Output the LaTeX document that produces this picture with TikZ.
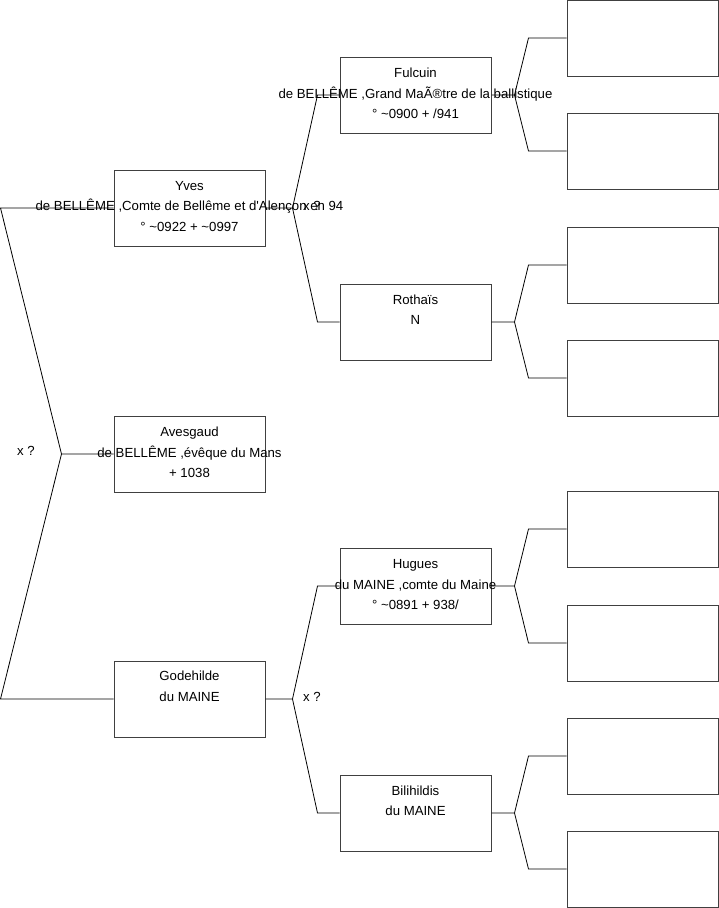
\documentclass[tikz,border=0pt]{standalone}
\usepackage{fontspec}
\setmainfont{Liberation Sans}[Ligatures=TeXOff]
\usetikzlibrary{positioning}
\definecolor{boxc}{HTML}{404040}
\tikzset{
  bx/.style={draw=boxc,line width=1pt,minimum width=151pt,minimum height=76pt,inner sep=0pt},
  tx/.style={align=center,inner sep=0pt,font=\fontsize{13.2}{20.5}\selectfont},
  ln/.style={black,line width=0.8pt}
}
\newcommand{\tld}{\textasciitilde}

\begin{document}
\begin{tikzpicture}[x=1pt,y=1pt]
\useasboundingbox (0,0) rectangle (719,-908);
% first generation
\node[bx] (yves) at (189.5,-208) {};
\node[bx] (aves) at (189.5,-454) {};
\node[bx] (gode) at (189.5,-699) {};
\node[tx,below=11.5pt of yves.north] (yves-t) {Yves\\de BELLÊME ,Comte de Bellême et d'Alençon en 94\\° \tld0922 + \tld0997};
\node[tx,below=11.5pt of aves.north] (aves-t) {Avesgaud\\de BELLÊME ,évêque du Mans\\+ 1038};
\node[tx,below=10.5pt of gode.north] (gode-t) {Godehilde\\du MAINE};
% parents
\node[bx] (fulc) at (415.5,-95) {};
\node[bx] (roth) at (415.5,-322) {};
\node[bx] (hug) at (415.5,-586) {};
\node[bx] (bili) at (415.5,-813) {};
\node[tx,below=11.5pt of fulc.north] (fulc-t) {Fulcuin\\de BELLÊME ,Grand MaÃ®tre de la ballistique\\° \tld0900 + /941};
\node[tx,below=11pt of roth.north] (roth-t) {Rothaïs\\N};
\node[tx,below=12pt of hug.north] (hug-t) {Hugues\\du MAINE ,comte du Maine\\° \tld0891 + 938/};
\node[tx,below=11pt of bili.north] (bili-t) {Bilihildis\\du MAINE};
% grand-parents (empty)
\foreach \y [count=\i] in {38,151,265,378,529,643,756,869}
  \node[bx] (r\i) at (642.5,-\y) {};
% marriages
\node[tx] (m1) at (26,-451) {x ?};
\node[tx] (m2) at (312,-206) {x ?};
\node[tx] (m3) at (312,-697) {x ?};
% links
\draw[ln] (yves.west) -- ++(-113,0) -- ([xshift=-52pt]aves.west) -- (aves.west);
\draw[ln] (gode.west) -- ++(-113,0) -- ([xshift=-52pt]aves.west);
\foreach \c/\p/\q in {yves/fulc/roth,gode/hug/bili}{
  \draw[ln] (\p.west) -- ++(-22,0) -- ([xshift=27pt]\c.east) -- (\c.east);
  \draw[ln] (\q.west) -- ++(-22,0) -- ([xshift=27pt]\c.east);
}
\foreach \c/\p/\q in {fulc/r1/r2,roth/r3/r4,hug/r5/r6,bili/r7/r8}{
  \draw[ln] (\p.west) -- ++(-38,0) -- ([xshift=23pt]\c.east) -- (\c.east);
  \draw[ln] (\q.west) -- ++(-38,0) -- ([xshift=23pt]\c.east);
}
\end{tikzpicture}
\end{document}
